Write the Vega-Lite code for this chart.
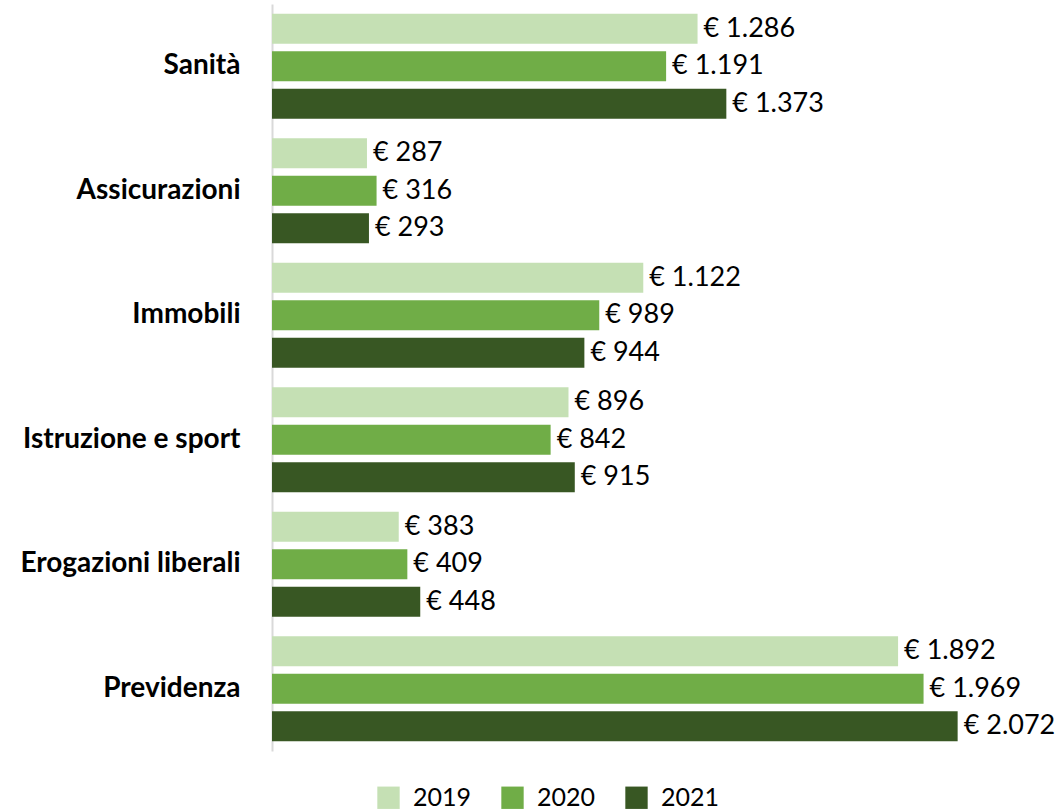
{
  "$schema": "https://vega.github.io/schema/vega-lite/v6.json",
  "autosize": "none",
  "width": 728,
  "height": 747,
  "padding": {"left": 272, "top": 4, "right": 61, "bottom": 61},
  "config": {
    "view": {"stroke": null},
    "font": "Lato",
    "locale": {
      "number": {"decimal": ",", "thousands": ".", "grouping": [3], "currency": ["€ ", ""]}
    }
  },
  "data": {
    "values": [
      {"cat": "Sanità", "year": "2019", "v": 1286},
      {"cat": "Sanità", "year": "2020", "v": 1191},
      {"cat": "Sanità", "year": "2021", "v": 1373},
      {"cat": "Assicurazioni", "year": "2019", "v": 287},
      {"cat": "Assicurazioni", "year": "2020", "v": 316},
      {"cat": "Assicurazioni", "year": "2021", "v": 293},
      {"cat": "Immobili", "year": "2019", "v": 1122},
      {"cat": "Immobili", "year": "2020", "v": 989},
      {"cat": "Immobili", "year": "2021", "v": 944},
      {"cat": "Istruzione e sport", "year": "2019", "v": 896},
      {"cat": "Istruzione e sport", "year": "2020", "v": 842},
      {"cat": "Istruzione e sport", "year": "2021", "v": 915},
      {"cat": "Erogazioni liberali", "year": "2019", "v": 383},
      {"cat": "Erogazioni liberali", "year": "2020", "v": 409},
      {"cat": "Erogazioni liberali", "year": "2021", "v": 448},
      {"cat": "Previdenza", "year": "2019", "v": 1892},
      {"cat": "Previdenza", "year": "2020", "v": 1969},
      {"cat": "Previdenza", "year": "2021", "v": 2072}
    ]
  },
  "encoding": {
    "y": {
      "field": "cat", "type": "nominal", "sort": null,
      "scale": {"paddingInner": 0, "paddingOuter": 0},
      "axis": {
        "title": null, "ticks": false, "domainColor": "#D9D9D9", "domainWidth": 2,
        "labelFontSize": 28, "labelFontWeight": "bold", "labelColor": "#000000",
        "labelPadding": 32, "labelFont": "Lato", "labelLimit": 0
      }
    },
    "yOffset": {
      "field": "year", "type": "nominal",
      "scale": {"paddingInner": 0.2, "paddingOuter": 0.26}
    },
    "x": {
      "field": "v", "type": "quantitative",
      "scale": {"domain": [0, 2200]},
      "axis": null
    }
  },
  "layer": [
    {
      "mark": {"type": "bar"},
      "encoding": {
        "color": {
          "field": "year", "type": "nominal",
          "scale": {"domain": ["2019", "2020", "2021"], "range": ["#C5E0B4", "#70AD47", "#385723"]},
          "legend": {
            "title": null, "orient": "none", "direction": "horizontal",
            "legendX": 104, "legendY": 781,
            "symbolType": "square", "symbolSize": 500, "symbolStrokeWidth": 0,
            "labelFontSize": 25, "labelColor": "#000000", "labelFont": "Lato",
            "columnPadding": 28, "labelOffset": 12
          }
        }
      }
    },
    {
      "mark": {"type": "text", "align": "left", "baseline": "middle", "dx": 6, "fontSize": 27, "color": "#000000"},
      "encoding": {
        "text": {"field": "v", "type": "quantitative", "format": "$,.0f"}
      }
    }
  ]
}
